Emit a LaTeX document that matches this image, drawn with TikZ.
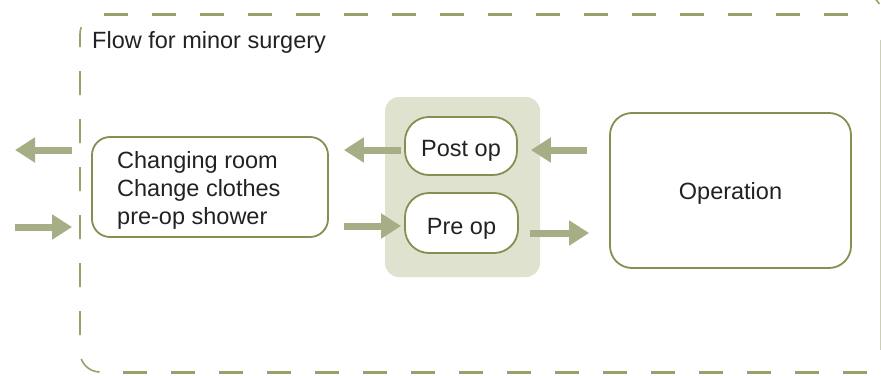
\documentclass[tikz,border=0pt]{standalone}
\usepackage{fontspec}
\setmainfont{Liberation Sans}
\usetikzlibrary{arrows.meta,calc}

\definecolor{framecol}{HTML}{9AA06A}
\definecolor{boxcol}{HTML}{84904F}
\definecolor{arrowcol}{HTML}{A6AE86}
\definecolor{shadecol}{HTML}{DFE2CE}
\definecolor{textcol}{HTML}{222222}

\tikzset{
  boxnode/.style={draw=boxcol, line width=1.8pt, fill=white, text=textcol,
    font=\fontsize{23.5}{28}\selectfont, text depth=0pt},
  flowarrow/.style={draw=arrowcol, line width=7pt,
    -{Triangle[length=20pt,width=24pt]}},
  frameh/.style={draw=framecol, line width=3pt, dash pattern=on 24pt off 24pt},
  framev/.style={draw=framecol, line width=1.6pt, dash pattern=on 24pt off 24pt},
  framearc/.style={draw=framecol, line width=1.6pt},
}

\begin{document}
\begin{tikzpicture}[x=1pt,y=-1pt]
  \useasboundingbox (0,0) rectangle (881,375);

  % dashed outer frame
  \draw[frameh] (104,14) -- (862,14);
  \draw[frameh] (123,372) -- (881,372);
  \draw[framearc] (80,47) -- (80,34) arc(180:200:20);
  \draw[framev] (80,71) -- (80,352) arc(180:90:20);
  \draw[framearc] (862,14) ++(290:20) arc(290:330:20);
  \draw[framearc, line width=0.8pt, draw=framecol!50] (880.5,40) -- (880.5,350);

  % title
  \node[anchor=base west, text=textcol, font=\fontsize{23.5}{28}\selectfont,
        inner sep=0pt] (title) at (92,48) {Flow for minor surgery};

  % shaded pre/post op area
  \node[fill=shadecol, rounded corners=14pt, minimum width=155pt,
        minimum height=180pt, inner sep=0pt] (shade) at (462.5,187) {};

  % boxes
  \node[boxnode, rounded corners=18pt, minimum width=236pt,
        minimum height=100pt, inner sep=0pt] (cr) at (210,187) {};
  \node[anchor=west, text=textcol, align=left, inner sep=0pt,
        font=\fontsize{23.5}{28}\selectfont] (crtext) at (117,190)
        {Changing room\\Change clothes\\pre-op shower};
  \node[boxnode, rounded corners=24pt, minimum width=112pt, text height=20.8pt,
        minimum height=58pt, inner sep=0pt] (post) at (461,146) {Post op};
  \node[boxnode, rounded corners=24pt, minimum width=113pt, text height=23pt,
        minimum height=60pt, inner sep=0pt] (pre) at (461.5,223) {Pre op};
  \node[boxnode, rounded corners=22pt, minimum width=241pt, text height=17.5pt,
        minimum height=155pt, inner sep=0pt] (op) at (730.5,190.5) {Operation};

  % flow arrows
  \coordinate (exitL) at (15,150);
  \coordinate (entryL) at (15,227);
  \draw[flowarrow] ($(cr.west)+(-19,-37)$) -- (exitL);
  \draw[flowarrow] (entryL) -- ($(cr.west)+(-19,40)$);
  \draw[flowarrow] ($(post.west)+(-3,4)$) -- ($(cr.east)+(15,-37)$);
  \draw[flowarrow] ($(cr.east)+(15,39)$) -- ($(pre.west)+(-3,3)$);
  \draw[flowarrow] ($(op.west)+(-22,-40.5)$) -- ($(post.east)+(13,4)$);
  \draw[flowarrow] ($(pre.east)+(11,10)$) -- ($(op.west)+(-20,42.5)$);
\end{tikzpicture}
\end{document}
